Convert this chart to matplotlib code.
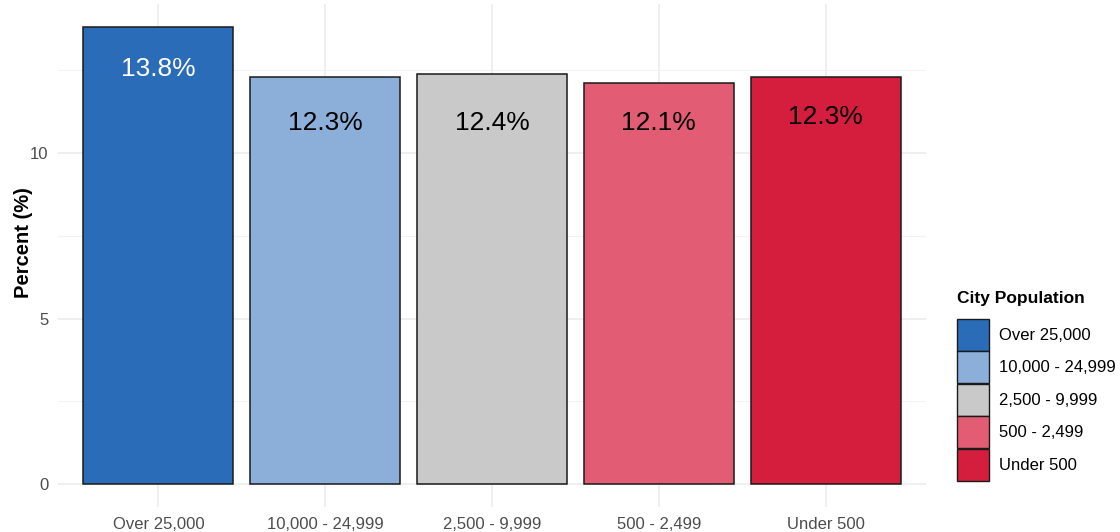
import matplotlib
matplotlib.use('Agg')
import matplotlib.pyplot as plt
from matplotlib.patches import Patch
from matplotlib.ticker import MultipleLocator

plt.rcParams['font.family'] = ['Liberation Sans', 'DejaVu Sans']

# dados
categorias = ['Over 25,000', '10,000 - 24,999', '2,500 - 9,999', '500 - 2,499', 'Under 500']
percentuais = [13.8, 12.3, 12.4, 12.1, 12.3]
rotulos = ['13.8%', '12.3%', '12.4%', '12.1%', '12.3%']
cores = ['#2B6CB9', '#8BAFD9', '#C9C9C9', '#E25C74', '#D51E3D']
cores_texto = ['white', 'black', 'black', 'black', 'black']
pos_rotulo = [12.55, 10.9, 10.9, 10.9, 11.1]

fig = plt.figure(figsize=(11.2, 5.32), dpi=100)
ax = fig.add_axes([0.052, 0.047, 0.7745, 0.9448])

x = list(range(len(categorias)))
ax.bar(x, percentuais, width=0.9, color=cores, edgecolor='#1a1a1a', linewidth=1.1, zorder=3)

for xi, yi, txt, c in zip(x, pos_rotulo, rotulos, cores_texto):
    ax.text(xi, yi, txt, ha='center', va='center', fontsize=19, color=c, zorder=4)

ax.set_xlim(-0.6, len(categorias) - 0.4)
ax.set_ylim(-0.69, 14.49)
ax.set_xticks(x)
ax.set_xticklabels(categorias)
ax.yaxis.set_major_locator(MultipleLocator(5))
ax.yaxis.set_minor_locator(MultipleLocator(2.5))

# grade estilo theme_minimal
ax.grid(axis='y', which='major', color='#ebebeb', linewidth=1.1, zorder=0)
ax.grid(axis='y', which='minor', color='#f2f2f2', linewidth=0.8, zorder=0)
ax.grid(axis='x', which='major', color='#ebebeb', linewidth=1.1, zorder=0)
for s in ax.spines.values():
    s.set_visible(False)
ax.tick_params(axis='both', which='both', length=0)
ax.tick_params(axis='x', labelsize=12, labelcolor='#4d4d4d', pad=7)
ax.tick_params(axis='y', labelsize=12, labelcolor='#4d4d4d', pad=7)
ax.set_ylabel('Percent (%)', fontsize=14.5, fontweight='bold')
ax.yaxis.set_label_coords(-0.029, 0.527)
ax.set_axisbelow(True)

# legenda
handles = [Patch(facecolor=c, edgecolor='#1a1a1a', linewidth=1.0) for c in cores]
leg = fig.legend(handles, categorias, title='City Population', loc='upper left',
                 bbox_to_anchor=(0.8545, 0.453), frameon=False, fontsize=12,
                 title_fontproperties={'weight': 'bold', 'size': 12.5},
                 handlelength=1.92, handleheight=2.58, labelspacing=0.03,
                 handletextpad=0.6, borderpad=0, borderaxespad=0)
leg._legend_box.align = 'left'
leg._legend_box.sep = 9  # espaço entre título e itens

fig.savefig('out.png', dpi=100)
